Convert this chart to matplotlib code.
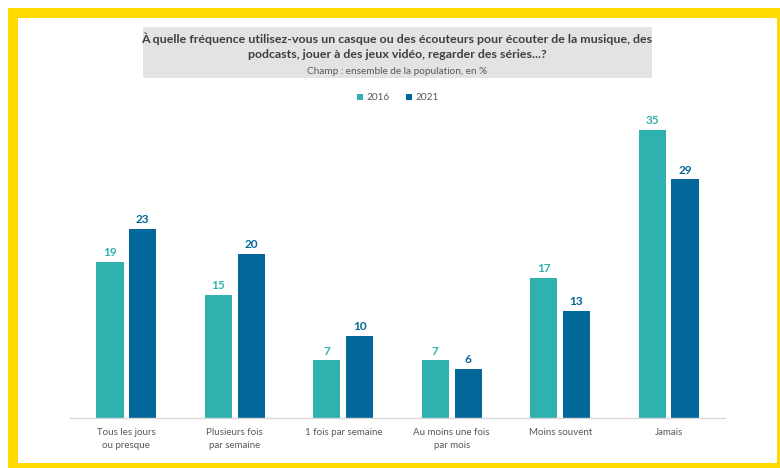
import matplotlib
matplotlib.use("Agg")
import matplotlib.pyplot as plt
from matplotlib.patches import Rectangle
import numpy as np

categories = ["Tous les jours\nou presque", "Plusieurs fois\npar semaine", "1 fois par semaine",
              "Au moins une fois\npar mois", "Moins souvent", "Jamais"]
series_names = ["2016", "2021"]
values_2016 = [19, 15, 7, 7, 17, 35]
values_2021 = [23, 20, 10, 6, 13, 29]

title = "À quelle fréquence utilisez-vous un casque ou des écouteurs pour écouter de la musique, des\npodcasts, jouer à des jeux vidéo, regarder des séries...?"
subtitle = "Champ : ensemble de la population, en %"

c2016 = "#2eb1af"
c2021 = "#03679a"
FONT = ["Lato", "DejaVu Sans"]

W, H = 780, 468
fig = plt.figure(figsize=(W / 100, H / 100), dpi=100)
fig.patch.set_facecolor("white")

def px(x, y, w, h):
    return [x / W, 1 - (y + h) / H, w / W, h / H]

# yellow frame
frame = fig.add_axes([0, 0, 1, 1])
frame.set_xlim(0, W); frame.set_ylim(H, 0); frame.axis("off")
yel = "#ffd900"
for (x, y, w, h) in [(8, 8, 772, 10), (8, 8, 10, 460), (8, 463, 772, 5), (777, 8, 3, 460)]:
    frame.add_patch(Rectangle((x, y), w, h, color=yel, lw=0))
# title box
frame.add_patch(Rectangle((143, 27), 509, 51, color="#e3e3e3", lw=0))
frame.text(397, 46, title, ha="center", va="center", fontsize=8.9, fontweight="bold",
           color="#3f3f3f", family=FONT, linespacing=1.4)
frame.text(397, 71, subtitle, ha="center", va="center", fontsize=7.2, color="#595959", family=FONT)
# legend
for xs, col, name in [(357, c2016, series_names[0]), (406, c2021, series_names[1])]:
    frame.add_patch(Rectangle((xs, 94), 6, 6, color=col, lw=0))
    frame.text(xs + 9, 97, name, ha="left", va="center", fontsize=7.2, color="#595959", family=FONT)

ax = fig.add_axes(px(70, 418 - 329, 655, 329))
ax.set_xlim(-0.52, 5.52)
ax.set_ylim(0, 40)
x = np.arange(len(categories))
off = 0.151
bw = 0.25
b1 = ax.bar(x - off, values_2016, bw, color=c2016)
b2 = ax.bar(x + off, values_2021, bw, color=c2021)
for bars, vals, col in [(b1, values_2016, c2016), (b2, values_2021, c2021)]:
    for b, v in zip(bars, vals):
        ax.text(b.get_x() + b.get_width() / 2, v + 0.45, str(v), ha="center", va="bottom",
                fontsize=8.5, fontweight="bold", color=col, family=FONT, clip_on=False)
for s in ["top", "right", "left"]:
    ax.spines[s].set_visible(False)
ax.spines["bottom"].set_color("#d9d9d9")
ax.spines["bottom"].set_linewidth(1)
ax.set_yticks([])
ax.set_xticks(x)
ax.set_xticklabels(categories, fontsize=7, color="#595959", family=FONT, linespacing=1.6)
ax.tick_params(axis="x", length=0, pad=7)
ax.patch.set_alpha(0)

fig.savefig("out.png", dpi=100)
